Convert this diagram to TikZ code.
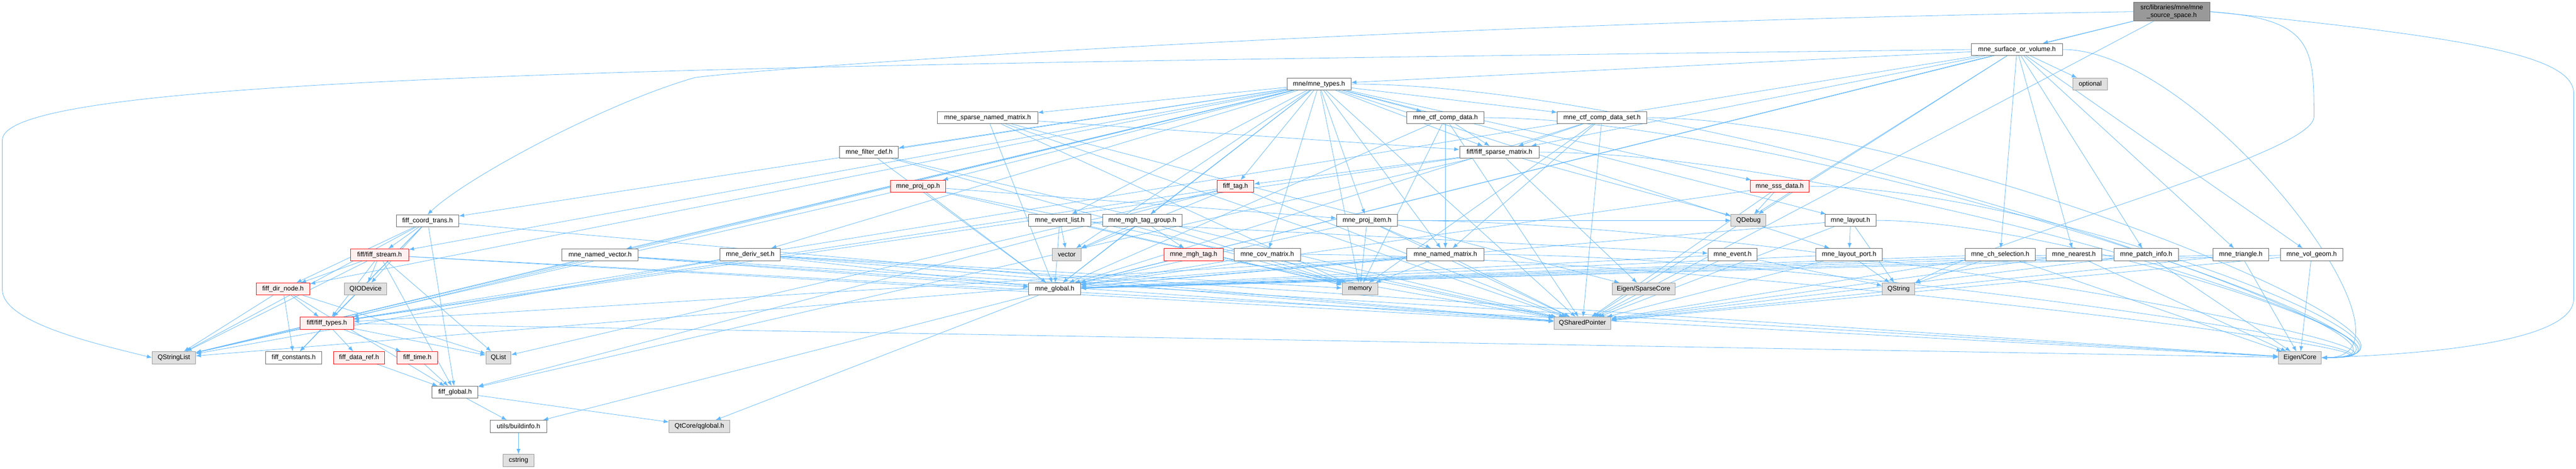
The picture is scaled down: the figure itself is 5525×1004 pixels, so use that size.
\documentclass[tikz,border=0pt]{standalone}
\usepackage{fontspec}
\setmainfont{Liberation Sans}
\usetikzlibrary{arrows.meta,backgrounds}
\definecolor{edgeblue}{HTML}{63B8FF}
\definecolor{boxgray}{HTML}{666666}
\definecolor{sysfill}{HTML}{E0E0E0}
\definecolor{sysline}{HTML}{999999}
\definecolor{redfill}{HTML}{FFF0F0}
\tikzset{
  hdr/.style={draw=boxgray, fill=white, line width=0.6pt, minimum height=0.52cm,
    inner sep=1pt, font=\fontsize{8}{9.6}\selectfont},
  hdrred/.style={hdr, draw=red, fill=redfill},
  hdrsys/.style={hdr, draw=sysline, fill=sysfill},
  hdrsrc/.style={hdr, draw=boxgray, fill=sysline, minimum height=0.8cm, align=center},
  wpx/.style={minimum width=#1*0.02cm},
  dep/.style={draw=edgeblue, line width=0.5pt, -{Latex[length=2.2mm,width=1.7mm]}},
}
\begin{document}
\begin{tikzpicture}[x=0.02cm,y=-0.02cm]
  \useasboundingbox (0,0) rectangle (5525,1004);
  % headers, top to bottom
  \node[hdrsrc,wpx=164] (src) at (4658,25) {src/libraries/mne/mne\\\_source\_space.h};
  \node[hdr,wpx=195] (surf) at (4326,106) {mne\_surface\_or\_volume.h};
  \node[hdr,wpx=137] (types) at (2829,180) {mne/mne\_types.h};
  \node[hdrsys,wpx=74] (optional) at (4483,180) {optional};
  \node[hdr,wpx=215] (sparsenm) at (2118,252) {mne\_sparse\_named\_matrix.h};
  \node[hdr,wpx=166] (ctfcd) at (3100,252) {mne\_ctf\_comp\_data.h};
  \node[hdr,wpx=192] (ctfcds) at (3436,252) {mne\_ctf\_comp\_data\_set.h};
  \node[hdr,wpx=126] (filterdef) at (1864,326) {mne\_filter\_def.h};
  \node[hdr,wpx=171] (fiffsparse) at (3216,326) {fiff/fiff\_sparse\_matrix.h};
  \node[hdrred,wpx=119] (projop) at (1969,399) {mne\_proj\_op.h};
  \node[hdrred,wpx=79] (fifftag) at (2650,399) {fiff\_tag.h};
  \node[hdrred,wpx=126] (sss) at (3817,399) {mne\_sss\_data.h};
  \node[hdr,wpx=134] (coordtrans) at (917,473) {fiff\_coord\_trans.h};
  \node[hdr,wpx=134] (eventlist) at (2273,472) {mne\_event\_list.h};
  \node[hdr,wpx=170] (mghgroup) at (2450,472) {mne\_mgh\_tag\_group.h};
  \node[hdr,wpx=131] (projitem) at (2932,472) {mne\_proj\_item.h};
  \node[hdrsys,wpx=75] (qdebug) at (3750,472) {QDebug};
  \node[hdr,wpx=109] (layout) at (3969,472) {mne\_layout.h};
  \node[hdrred,wpx=125] (stream) at (814,546) {fiff/fiff\_stream.h};
  \node[hdr,wpx=163] (namedvec) at (1287,546) {mne\_named\_vector.h};
  \node[hdr,wpx=130] (derivset) at (1609,545) {mne\_deriv\_set.h};
  \node[hdrsys,wpx=62] (vector) at (2288,545) {vector};
  \node[hdrred,wpx=127] (mghtag) at (2560,545) {mne\_mgh\_tag.h};
  \node[hdr,wpx=143] (covmat) at (2718,545) {mne\_cov\_matrix.h};
  \node[hdr,wpx=165] (namedmat) at (3100,545) {mne\_named\_matrix.h};
  \node[hdr,wpx=105] (event) at (3716,545) {mne\_event.h};
  \node[hdr,wpx=143] (layoutport) at (3966,545) {mne\_layout\_port.h};
  \node[hdr,wpx=150] (chsel) at (4290,545) {mne\_ch\_selection.h};
  \node[hdr,wpx=119] (nearest) at (4448,545) {mne\_nearest.h};
  \node[hdr,wpx=138] (patch) at (4603,545) {mne\_patch\_info.h};
  \node[hdr,wpx=119] (triangle) at (4806,545) {mne\_triangle.h};
  \node[hdr,wpx=134] (volgeom) at (4958,545) {mne\_vol\_geom.h};
  \node[hdrred,wpx=115] (dirnode) at (607,619) {fiff\_dir\_node.h};
  \node[hdrsys,wpx=90] (qiodevice) at (784,619) {QIODevice};
  \node[hdr,wpx=111] (mneglobal) at (2262,619) {mne\_global.h};
  \node[hdrsys,wpx=77] (memory) at (2917,619) {memory};
  \node[hdrsys,wpx=135] (sparsecore) at (3525,619) {Eigen/SparseCore};
  \node[hdrsys,wpx=70] (qstring) at (4072,619) {QString};
  \node[hdrred,wpx=114] (fifftypes) at (701,692) {fiff/fiff\_types.h};
  \node[hdrsys,wpx=122] (qshared) at (3394,692) {QSharedPointer};
  \node[hdrsys,wpx=93] (qstringlist) at (373,766) {QStringList};
  \node[hdr,wpx=120] (fiffconst) at (630,766) {fiff\_constants.h};
  \node[hdrred,wpx=110] (dataref) at (770,766) {fiff\_data\_ref.h};
  \node[hdrred,wpx=87] (fifftime) at (895,766) {fiff\_time.h};
  \node[hdrsys,wpx=54] (qlist) at (1069,766) {QList};
  \node[hdrsys,wpx=92] (eigencore) at (4933,766) {Eigen/Core};
  \node[hdr,wpx=98] (fiffglobal) at (976,840) {fiff\_global.h};
  \node[hdr,wpx=121] (buildinfo) at (1112,913) {utils/buildinfo.h};
  \node[hdrsys,wpx=130] (qglobal) at (1500,913) {QtCore/qglobal.h};
  \node[hdrsys,wpx=66] (cstring) at (1112,986) {cstring};
  % include edges
  \begin{scope}[on background layer]
    \foreach \a/\b in {src/surf, src/mneglobal, src/qshared,
      surf/types, surf/optional, surf/chsel, surf/nearest, surf/patch, surf/triangle,
      surf/volgeom, surf/fiffsparse, surf/qdebug, surf/fifftypes, surf/mneglobal, surf/qshared,
      types/sparsenm, types/ctfcd, types/ctfcds, types/filterdef, types/fiffsparse,
      types/projop, types/fifftag, types/sss, types/coordtrans, types/eventlist,
      types/mghgroup, types/projitem, types/layout, types/layoutport, types/stream,
      types/namedvec, types/derivset, types/vector, types/covmat, types/namedmat,
      types/dirnode, types/fifftypes, types/mneglobal, types/memory, types/qshared,
      types/qstringlist,
      sparsenm/fiffsparse, sparsenm/mneglobal, sparsenm/memory, sparsenm/sparsecore, sparsenm/qshared,
      ctfcd/fiffsparse, ctfcd/namedmat, ctfcd/mneglobal, ctfcd/memory, ctfcd/qshared,
      ctfcds/fiffsparse, ctfcds/namedmat, ctfcds/mneglobal, ctfcds/memory, ctfcds/qshared,
      filterdef/mneglobal, filterdef/memory, filterdef/qshared,
      fiffsparse/fifftag, fiffsparse/qdebug, fiffsparse/sparsecore, fiffsparse/fifftypes,
      fiffsparse/fiffglobal,
      projop/projitem, projop/mneglobal, projop/memory, projop/qshared, projop/qstringlist,
      fifftag/vector, fifftag/fifftypes, fifftag/qlist, fifftag/fiffglobal, fifftag/qshared,
      sss/qdebug, sss/mneglobal, sss/qshared,
      coordtrans/stream, coordtrans/fifftypes, coordtrans/fiffconst, coordtrans/fiffglobal,
      coordtrans/qiodevice, coordtrans/qstringlist, coordtrans/qshared, coordtrans/dirnode,
      eventlist/vector, eventlist/event, eventlist/mneglobal, eventlist/memory,
      mghgroup/vector, mghgroup/mghtag, mghgroup/mneglobal, mghgroup/memory,
      projitem/namedmat, projitem/qdebug, projitem/memory, projitem/mneglobal, projitem/qshared,
      layout/layoutport, layout/qstring, layout/mneglobal, layout/qshared,
      stream/dirnode, stream/qiodevice, stream/fifftypes, stream/qlist, stream/qstringlist,
      stream/fiffglobal, stream/qshared, stream/eigencore,
      namedvec/mneglobal, namedvec/qstringlist, namedvec/qshared, namedvec/eigencore,
      derivset/mneglobal, derivset/qstringlist, derivset/qshared, derivset/memory, derivset/eigencore,
      mghtag/mneglobal, mghtag/qshared,
      covmat/mneglobal, covmat/memory, covmat/qshared,
      namedmat/mneglobal, namedmat/memory, namedmat/qshared, namedmat/fifftypes, namedmat/qstringlist,
      event/qstring, event/mneglobal, event/qshared,
      layoutport/qstring, layoutport/mneglobal, layoutport/qshared,
      chsel/qstring, chsel/mneglobal, chsel/eigencore, chsel/qshared,
      nearest/mneglobal, nearest/eigencore, nearest/qshared,
      patch/mneglobal, patch/eigencore, patch/qshared,
      triangle/mneglobal, triangle/eigencore, triangle/qshared,
      volgeom/mneglobal, volgeom/eigencore, volgeom/qshared,
      dirnode/fifftypes, dirnode/fiffconst, dirnode/qstringlist, dirnode/qlist, dirnode/fiffglobal,
      fifftypes/qstringlist, fifftypes/fiffconst, fifftypes/dataref, fifftypes/fifftime,
      fifftypes/qlist, fifftypes/eigencore,
      dataref/fiffglobal, fifftime/fiffglobal,
      fiffglobal/buildinfo, fiffglobal/qglobal, mneglobal/buildinfo, mneglobal/qglobal,
      buildinfo/cstring}{%
      \draw[dep] (\a)--(\b);
    }
    % edges that come into Eigen/Core from the right
    \foreach \a/\d/\e in {surf/300/250, types/800/400, ctfcds/600/400, fiffsparse/700/400,
      sss/500/350, layout/400/330, projitem/800/400, covmat/800/380, namedmat/700/360,
      ctfcd/700/400}{%
      \draw[dep] (\a.east) .. controls +(\d,0) and +(\e,0) .. (eigencore.east);
    }
    % long routed edges
    \draw[dep] (surf.west) .. controls (1500,140) and (5,160) .. (5,300) -- (5,620)
      .. controls (5,690) and (200,735) .. (qstringlist.west);
    \draw[dep] (src.west) .. controls (3000,50) and (1700,140) .. (1491,166)
      .. controls (1300,220) and (1000,380) .. (coordtrans.north);
    \draw[dep] (src.east) .. controls (5300,80) and (5520,120) .. (5520,200) -- (5520,640)
      .. controls (5520,740) and (5150,760) .. (eigencore.east);
    \draw[dep] (src.east) .. controls (4960,40) and (4963,100) .. (4963,250)
      .. controls (4963,330) and (4300,500) .. (qstring.north east);
  \end{scope}
\end{tikzpicture}
\end{document}
